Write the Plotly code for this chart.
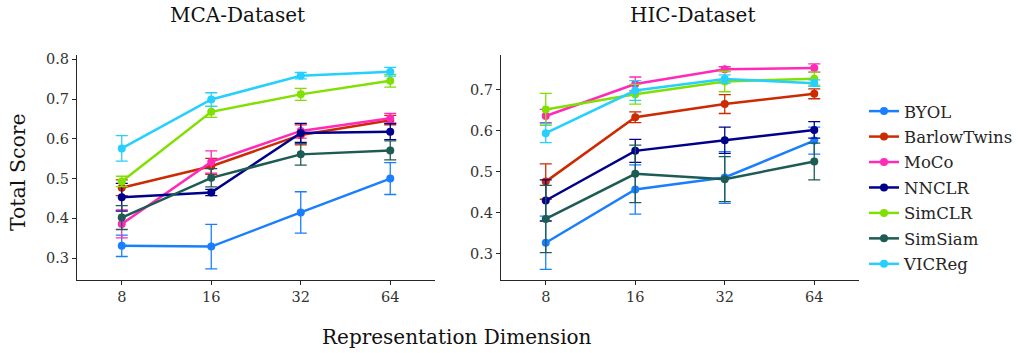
import math
import plotly.graph_objects as go

dims = [8, 16, 32, 64]
methods = ["BYOL", "BarlowTwins", "MoCo", "NNCLR", "SimCLR", "SimSiam", "VICReg"]
colors = ["#1a7fff", "#cc2a00", "#ff2bb8", "#00008b", "#80e000", "#1d5c54", "#25d0ff"]

# MCA-Dataset
mca_byol = [0.331, 0.329, 0.415, 0.500]
mca_barlow = [0.477, 0.531, 0.610, 0.647]
mca_moco = [0.386, 0.542, 0.620, 0.652]
mca_nnclr = [0.453, 0.465, 0.615, 0.618]
mca_simclr = [0.493, 0.668, 0.712, 0.746]
mca_simsiam = [0.402, 0.502, 0.561, 0.571]
mca_vicreg = [0.576, 0.699, 0.759, 0.769]

mca_byol_err = [0.027, 0.056, 0.052, 0.040]
mca_barlow_err = [0.020, 0.020, 0.025, 0.012]
mca_moco_err = [0.035, 0.028, 0.018, 0.012]
mca_nnclr_err = [0.035, 0.008, 0.024, 0.020]
mca_simclr_err = [0.013, 0.014, 0.015, 0.016]
mca_simsiam_err = [0.030, 0.023, 0.027, 0.024]
mca_vicreg_err = [0.032, 0.017, 0.008, 0.011]

# HIC-Dataset
hic_byol = [0.327, 0.457, 0.486, 0.576]
hic_barlow = [0.476, 0.633, 0.665, 0.690]
hic_moco = [0.636, 0.714, 0.750, 0.753]
hic_nnclr = [0.430, 0.551, 0.577, 0.602]
hic_simclr = [0.652, 0.689, 0.720, 0.727]
hic_simsiam = [0.385, 0.495, 0.482, 0.525]
hic_vicreg = [0.594, 0.698, 0.726, 0.716]

hic_byol_err = [0.065, 0.060, 0.063, 0.033]
hic_barlow_err = [0.043, 0.013, 0.023, 0.012]
hic_moco_err = [0.016, 0.017, 0.006, 0.010]
hic_nnclr_err = [0.050, 0.028, 0.032, 0.020]
hic_simclr_err = [0.039, 0.024, 0.025, 0.016]
hic_simsiam_err = [0.082, 0.070, 0.055, 0.045]
hic_vicreg_err = [0.023, 0.024, 0.010, 0.008]

mca = [mca_byol, mca_barlow, mca_moco, mca_nnclr, mca_simclr, mca_simsiam, mca_vicreg]
mca_err = [mca_byol_err, mca_barlow_err, mca_moco_err, mca_nnclr_err, mca_simclr_err, mca_simsiam_err, mca_vicreg_err]
hic = [hic_byol, hic_barlow, hic_moco, hic_nnclr, hic_simclr, hic_simsiam, hic_vicreg]
hic_err = [hic_byol_err, hic_barlow_err, hic_moco_err, hic_nnclr_err, hic_simclr_err, hic_simsiam_err, hic_vicreg_err]

FONT = "'DejaVu Serif', 'Liberation Serif', serif"
W, H = 1024, 353

fig = go.Figure()
for i, m in enumerate(methods):
    for vals, errs, xa, ya, show in [(mca[i], mca_err[i], "x", "y", True), (hic[i], hic_err[i], "x2", "y2", False)]:
        fig.add_trace(go.Scatter(
            x=dims, y=vals, name=m, legendgroup=m, showlegend=show,
            xaxis=xa, yaxis=ya, mode="lines+markers",
            line=dict(color=colors[i], width=2.5),
            marker=dict(color=colors[i], size=8),
            error_y=dict(type="data", array=errs, visible=True, color=colors[i], thickness=1.3, width=6),
        ))

def px_x(p):
    return p / W

def px_y(p):
    return 1 - p / H

axis_common = dict(
    type="log", range=[math.log10(2 ** 2.5), math.log10(2 ** 6.5)],
    tickvals=dims, ticktext=[str(d) for d in dims],
    showline=True, linecolor="#262626", linewidth=1.2, mirror=False,
    ticks="outside", ticklen=4, tickcolor="#262626", showgrid=False, zeroline=False,
    tickfont=dict(family=FONT, size=14.5, color="#333"),
)
yaxis_common = dict(
    showline=True, linecolor="#262626", linewidth=1.2, mirror=False,
    ticks="outside", ticklen=4, tickcolor="#262626", showgrid=False, zeroline=False,
    tickfont=dict(family=FONT, size=14.5, color="#333"),
    dtick=0.1, tickformat=".1f",
)

ybot, ytop = 279, 52
fig.update_layout(
    width=W, height=H,
    margin=dict(l=0, r=0, t=0, b=0),
    paper_bgcolor="white", plot_bgcolor="white",
    font=dict(family=FONT),
    xaxis=dict(axis_common, domain=[px_x(77), px_x(435)], anchor="y"),
    yaxis=dict(yaxis_common, domain=[px_y(ybot), px_y(ytop)], range=[0.2453, 0.81], anchor="x"),
    xaxis2=dict(axis_common, domain=[px_x(501), px_x(859)], anchor="y2"),
    yaxis2=dict(yaxis_common, domain=[px_y(ybot), px_y(ytop)], range=[0.2366, 0.7836], anchor="x2"),
    legend=dict(
        x=px_x(864), y=px_y(186), xanchor="left", yanchor="middle",
        font=dict(family=FONT, size=16.5, color="#262626"),
        traceorder="grouped", tracegroupgap=1, bgcolor="rgba(0,0,0,0)",
    ),
    showlegend=True,
    annotations=[
        dict(text="MCA-Dataset", x=px_x(237), y=px_y(11), xref="paper", yref="paper",
             xanchor="center", yanchor="middle",
             showarrow=False, font=dict(family=FONT, size=20, color="#111")),
        dict(text="HIC-Dataset", x=px_x(692), y=px_y(11), xref="paper", yref="paper",
             xanchor="center", yanchor="middle",
             showarrow=False, font=dict(family=FONT, size=20, color="#111")),
        dict(text="Total Score", x=px_x(18), y=px_y(170), xref="paper", yref="paper",
             xanchor="center", yanchor="middle",
             showarrow=False, textangle=-90, font=dict(family=FONT, size=20.5, color="#111")),
        dict(text="Representation Dimension", x=px_x(457), y=px_y(337), xref="paper", yref="paper",
             xanchor="center", yanchor="middle",
             showarrow=False, font=dict(family=FONT, size=20, color="#111")),
    ],
)

fig.write_html("out.html")
